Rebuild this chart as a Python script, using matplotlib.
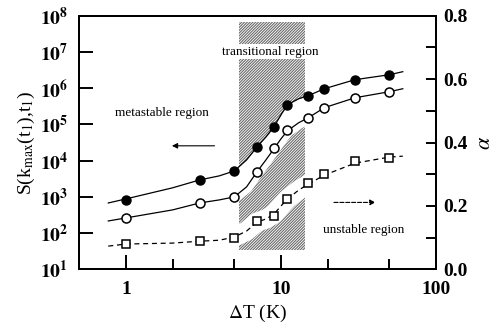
import numpy as np
import matplotlib
matplotlib.use("Agg")
import matplotlib.pyplot as plt
from matplotlib.patches import Rectangle
from matplotlib.ticker import FixedLocator, NullLocator, FixedFormatter

plt.rcParams['font.family'] = ['Liberation Serif', 'DejaVu Serif']
plt.rcParams['mathtext.fontset'] = 'stix'
plt.rcParams['hatch.linewidth'] = 0.8

# measured points (delta T in K)
dT = [1, 3, 5, 7, 9, 11, 15, 19, 30, 50]
s_filled = [830, 2900, 5100, 24000, 85000, 3.5e5, 6.2e5, 9.5e5, 1.7e6, 2.3e6]
s_open = [260, 680, 980, 4800, 22000, 71000, 1.5e5, 2.8e5, 5.4e5, 8.0e5]
alpha_sq = [0.079, 0.089, 0.098, 0.152, 0.168, 0.221, 0.272, 0.300, 0.341, 0.351]

# guide-to-the-eye curves
curve_x = [0.77, 1, 2, 3, 4, 5, 6, 7, 8, 9, 10, 11, 13, 15, 19, 30, 50, 61]
curve_filled = [680, 880, 1780, 2950, 3800, 5200, 10500, 24000, 45000, 86000,
                1.84e5, 3.48e5, 5.1e5, 6.2e5, 9.6e5, 1.71e6, 2.34e6, 2.84e6]
curve_open = [217, 263, 438, 683, 826, 1000, 1890, 4910, 10500, 21200,
              40000, 66500, 1.11e5, 1.52e5, 2.88e5, 5.43e5, 7.96e5, 9.62e5]
curve_alpha = [0.0735, 0.080, 0.083, 0.089, 0.092, 0.102, 0.121, 0.149, 0.159,
               0.174, 0.200, 0.222, 0.250, 0.269, 0.297, 0.335, 0.354, 0.357]

trans_lo, trans_hi = 5.36, 14.3

fig = plt.figure(figsize=(4.95, 3.25), dpi=100)
ax = fig.add_axes([0.160, 0.171, 0.721, 0.781])
ax.set_xscale('log')
ax.set_yscale('log')
ax.set_xlim(0.5, 100)
ax.set_ylim(10, 1e8)

# transitional region, hatched
rect = Rectangle((trans_lo, 10**1.54), trans_hi - trans_lo, 10**7.83 - 10**1.54,
                 facecolor='white', edgecolor='#6a6a6a', hatch='/' * 12,
                 linewidth=0, zorder=1)
ax.add_patch(rect)

# white gaps in the hatching around the curves
ax.fill_between(curve_x, curve_open, curve_filled, color='white', lw=0, zorder=1.5)
ax.plot(curve_x, curve_open, color='white', lw=9, zorder=1.5)

ax.plot(curve_x, curve_filled, color='black', lw=0.9, zorder=3)
ax.plot(curve_x, curve_open, color='black', lw=0.9, zorder=3)
ax.plot(dT, s_filled, 'o', color='black', ms=6.5, zorder=4)
ax.plot(dT, s_open, 'o', mfc='white', mec='black', mew=1.1, ms=6.5, zorder=4)

ax2 = ax.twinx()
ax2.set_ylim(0, 0.8)
ax2.plot(curve_x, curve_alpha, color='white', lw=14, zorder=1)
ax2.plot(curve_x, curve_alpha, color='black', lw=0.9, ls=(0, (4, 3)), zorder=3)
ax2.plot(dT, alpha_sq, 's', mfc='white', mec='black', mew=1.1, ms=6, zorder=4)

# ticks
for a in (ax, ax2):
    for s in a.spines.values():
        s.set_linewidth(1.4)
ax.xaxis.set_major_locator(FixedLocator([1, 10, 100]))
ax.xaxis.set_major_formatter(FixedFormatter(['1', '10', '100']))
ax.xaxis.set_minor_locator(FixedLocator([2, 5, 20, 50]))
ax.yaxis.set_major_locator(FixedLocator([10.0**k for k in range(1, 9)]))
ax.yaxis.set_major_formatter(FixedFormatter([r'$\mathbf{10^{%d}}$' % k for k in range(1, 9)]))
ax.yaxis.set_minor_locator(NullLocator())
ax.tick_params(axis='x', which='major', direction='in', length=10, width=1.4,
               labelsize=14, pad=8, top=False)
ax.tick_params(axis='x', which='minor', direction='in', length=7, width=1.4, top=False)
ax.tick_params(axis='y', which='major', direction='in', length=10, width=1.4,
               labelsize=14, pad=8, right=False)
for t in ax.get_xticklabels():
    t.set_fontweight('bold')

ax2.yaxis.set_major_locator(FixedLocator([0.0, 0.2, 0.4, 0.6, 0.8]))
ax2.yaxis.set_major_formatter(FixedFormatter(['0.0', '0.2', '0.4', '0.6', '0.8']))
ax2.yaxis.set_minor_locator(FixedLocator([0.1, 0.3, 0.5, 0.7]))
ax2.tick_params(axis='y', which='both', direction='in', length=7, width=1.4,
                labelsize=14, pad=5)
for t in ax2.get_yticklabels():
    t.set_fontweight('bold')

ax.set_xlabel(r'$\Delta$T (K)', fontsize=14, labelpad=4)
ax.set_ylabel(r'S(k$_{\rm max}$(t$_1$),t$_1$)', fontsize=14, labelpad=2)
ax2.set_ylabel(r'$\alpha$', fontsize=16, labelpad=6)

# annotations
ax.text(0.535, 0.857, 'transitional region', transform=ax.transAxes, fontsize=9.5,
        ha='center', va='center', zorder=5,
        bbox=dict(facecolor='white', edgecolor='none', pad=1))
ax.text(0.232, 0.616, 'metastable region', transform=ax.transAxes, fontsize=9.5,
        ha='center', va='center')
ax.text(0.796, 0.155, 'unstable region', transform=ax.transAxes, fontsize=9.5,
        ha='center', va='center')
ax.annotate('', xy=(0.252, 0.487), xytext=(0.387, 0.487), xycoords='axes fraction',
            arrowprops=dict(arrowstyle='-|>', color='black', lw=0.8, mutation_scale=8))
ax.annotate('', xy=(0.838, 0.264), xytext=(0.706, 0.264), xycoords='axes fraction',
            arrowprops=dict(arrowstyle='-|>', color='black', lw=0.8, ls='--',
                            mutation_scale=8))

fig.savefig('out.png', dpi=100)
